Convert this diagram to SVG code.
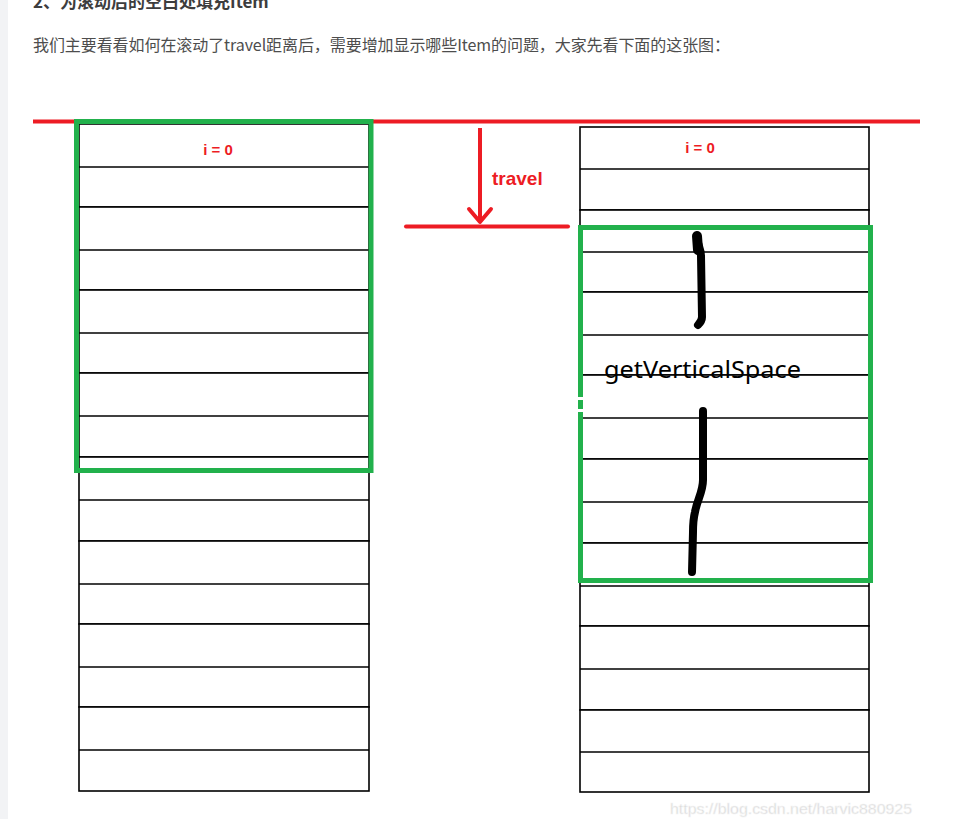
<svg xmlns="http://www.w3.org/2000/svg" width="969" height="819" viewBox="0 0 969 819">
<defs>
<style>
.cell{fill:#ffffff;stroke:#000000;stroke-width:1.6}
.mid{stroke:#000000;stroke-width:1.6}
.green{fill:none;stroke:#22b14c;stroke-width:5}
.red{stroke:#ed1c24;stroke-width:4;fill:none}
.lbl{font-family:"Liberation Sans",Arial,sans-serif;font-weight:bold;fill:#ed1c24}
.brush{fill:none;stroke:#000000;stroke-width:8;stroke-linecap:round;stroke-linejoin:round}
</style>
</defs>
<rect x="0" y="0" width="969" height="819" fill="#ffffff"/>
<rect x="0" y="0" width="8" height="819" fill="#f2f3f5"/>
<g id="header">
<text x="33" y="8" font-family="'Noto Sans CJK SC','Noto Sans',sans-serif" font-size="17" font-weight="bold" fill="#3d3d3d">2、为滚动后的空白处填充Item</text>
<text x="33" y="51" font-family="'Noto Sans CJK SC','Noto Sans',sans-serif" font-size="16" fill="#4d4d4d" textLength="697" lengthAdjust="spacing">我们主要看看如何在滚动了travel距离后，需要增加显示哪些Item的问题，大家先看下面的这张图：</text>
</g>
<g id="top-line">
<line class="red" x1="33" y1="121.5" x2="920" y2="121.5"/>
</g>
<g id="left-list">
<rect class="cell" x="79" y="124" width="290" height="83"/><line class="mid" x1="79" y1="167" x2="369" y2="167"/>
<rect class="cell" x="79" y="207" width="290" height="83"/><line class="mid" x1="79" y1="250" x2="369" y2="250"/>
<rect class="cell" x="79" y="290" width="290" height="83"/><line class="mid" x1="79" y1="333" x2="369" y2="333"/>
<rect class="cell" x="79" y="373" width="290" height="84"/><line class="mid" x1="79" y1="416" x2="369" y2="416"/>
<rect class="cell" x="79" y="457" width="290" height="84"/><line class="mid" x1="79" y1="500" x2="369" y2="500"/>
<rect class="cell" x="79" y="541" width="290" height="83"/><line class="mid" x1="79" y1="584" x2="369" y2="584"/>
<rect class="cell" x="79" y="624" width="290" height="83"/><line class="mid" x1="79" y1="667" x2="369" y2="667"/>
<rect class="cell" x="79" y="707" width="290" height="84"/><line class="mid" x1="79" y1="750" x2="369" y2="750"/>
<text class="lbl" x="218" y="155" font-size="15" text-anchor="middle">i = 0</text>
</g>
<g id="left-window">
<rect class="green" x="76.5" y="121.5" width="294.5" height="349"/>
</g>
<g id="right-list">
<rect class="cell" x="580" y="127" width="289" height="83"/><line class="mid" x1="580" y1="169" x2="869" y2="169"/>
<rect class="cell" x="580" y="210" width="289" height="82"/><line class="mid" x1="580" y1="252" x2="869" y2="252"/>
<rect class="cell" x="580" y="292" width="289" height="83"/><line class="mid" x1="580" y1="335" x2="869" y2="335"/>
<rect class="cell" x="580" y="375" width="289" height="84"/><line class="mid" x1="580" y1="418" x2="869" y2="418"/>
<rect class="cell" x="580" y="459" width="289" height="84"/><line class="mid" x1="580" y1="502" x2="869" y2="502"/>
<rect class="cell" x="580" y="543" width="289" height="83"/><line class="mid" x1="580" y1="586" x2="869" y2="586"/>
<rect class="cell" x="580" y="626" width="289" height="84"/><line class="mid" x1="580" y1="669" x2="869" y2="669"/>
<rect class="cell" x="580" y="710" width="289" height="82"/><line class="mid" x1="580" y1="752" x2="869" y2="752"/>
<text class="lbl" x="700" y="153" font-size="15" text-anchor="middle">i = 0</text>
</g>
<g id="right-window">
<rect class="green" x="580.5" y="227.5" width="290" height="353"/>
<rect x="578" y="397" width="6" height="3" fill="#ffffff"/>
<rect x="578" y="409" width="6" height="3" fill="#ffffff"/>
<path class="brush" d="M697,237 C697,244 701,248 701,256 L702,317 C702,321 700,323 698,325"/>
<path d="M697,236 L698,250" stroke="#000" stroke-width="10" stroke-linecap="round"/>
<path class="brush" d="M703,411 L703,480 C703,492 697,500 695,512 C693,520 693,526 693,532 L692,572"/>
<text x="604" y="378" font-family="'Noto Sans','Open Sans',sans-serif" font-size="24" fill="#000000" textLength="197" lengthAdjust="spacingAndGlyphs">getVerticalSpace</text>
</g>
<g id="connectors">
<line class="red" x1="480" y1="128" x2="480" y2="222"/>
<polyline class="red" points="469,209 480,222 491,209" stroke-linecap="round" stroke-linejoin="round"/>
<line class="red" x1="406" y1="226.5" x2="568" y2="226.5" stroke-linecap="round"/>
<text class="lbl" x="492" y="185" font-size="19">travel</text>
</g>
<g id="watermark">
<text x="670" y="814" font-family="'Liberation Sans',Arial,sans-serif" font-size="15.5" fill="#d4d4d4" stroke="#f4f4f4" stroke-width="0.6" textLength="242" lengthAdjust="spacingAndGlyphs">https://blog.csdn.net/harvic880925</text>
</g>
</svg>
